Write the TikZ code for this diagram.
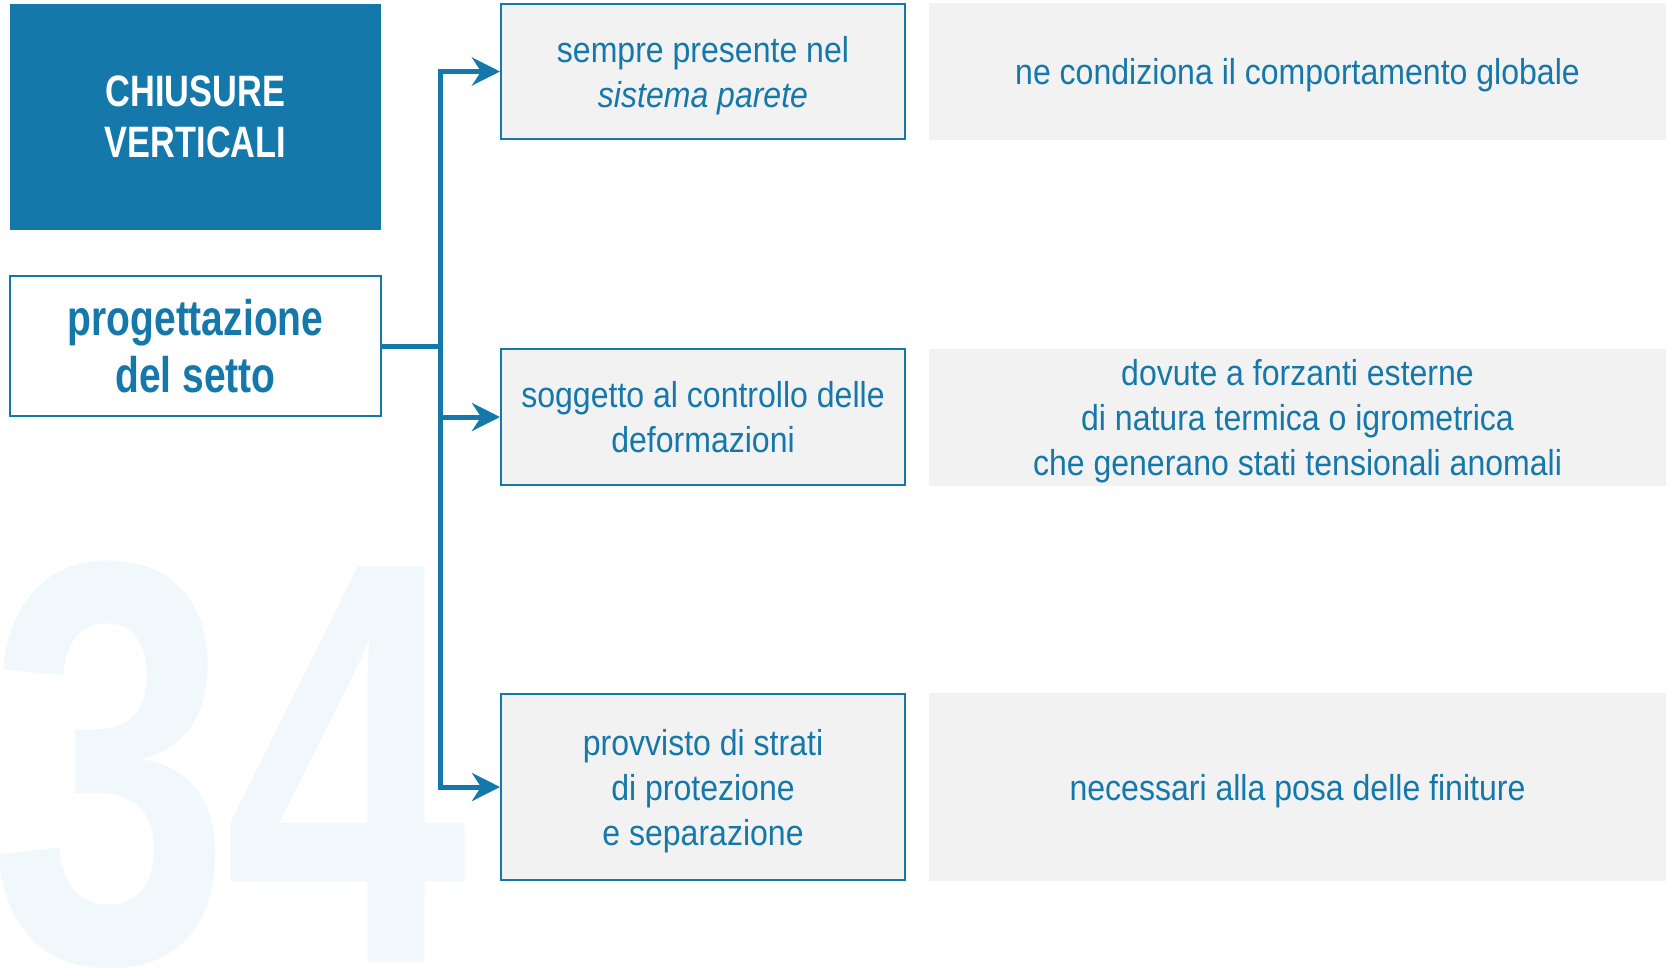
\documentclass[tikz,border=0pt]{standalone}
\usepackage{fontspec}
\setmainfont{Liberation Sans}[FakeStretch=0.89]
\newfontfamily\boldcond{Liberation Sans Bold}[FakeStretch=0.78]
\newfontfamily\wmfont{Liberation Sans Bold}[FakeStretch=0.76]
\usetikzlibrary{arrows.meta}
\definecolor{mblue}{RGB}{21,120,170}
\definecolor{mgrey}{RGB}{242,242,242}
\definecolor{wmcol}{RGB}{240,248,252}
\begin{document}
\begin{tikzpicture}[x=1pt,y=-1pt,
  box/.style={draw=mblue, line width=2pt, fill=mgrey, minimum width=404pt, inner sep=0pt, align=center, text=mblue, text depth=0pt, font=\fontsize{36}{45}\selectfont},
  gbox/.style={fill=mgrey, minimum width=737pt, inner sep=0pt, align=center, text=mblue, text depth=0pt, font=\fontsize{36}{45}\selectfont},
  conn/.style={draw=mblue, line width=5pt},
  arr/.style={conn, -{Stealth[length=28pt,width=28pt,inset=9pt]}},
  wm/.style={text=wmcol, inner sep=0pt, font=\wmfont\fontsize{575}{575}\selectfont}]
\useasboundingbox (0,0) rectangle (1669,967);
% watermark
\node[wm, anchor=base] (d3) at (110,962) {3};
\node[wm, anchor=base] (d4) at (346,962) {4};
% left nodes
\node[fill=mblue, minimum width=371pt, minimum height=226pt, inner sep=0pt, align=center, text=white, font=\boldcond\fontsize{44}{51}\selectfont] (title) at (195.5,117) {CHIUSURE\\VERTICALI};
\node[draw=mblue, line width=2pt, fill=white, minimum width=371pt, minimum height=140pt, inner sep=0pt, align=center, text=mblue, font=\boldcond\fontsize{50}{57}\selectfont] (prog) at (195.5,346) {progettazione\\del setto};
% middle boxes
\node[box, minimum height=135pt] (b1) at (703,71.5) {sempre presente nel\\\itshape sistema parete};
\node[box, minimum height=136pt] (b2) at (703,417) {soggetto al controllo delle\\deformazioni};
\node[box, minimum height=186pt] (b3) at (703,787) {provvisto di strati\\di protezione\\e separazione};
% grey boxes
\node[gbox, minimum height=137pt] (g1) at (1297.5,71.5) {ne condiziona il comportamento globale};
\node[gbox, minimum height=137pt] (g2) at (1297.5,417) {dovute a forzanti esterne\\di natura termica o igrometrica\\che generano stati tensionali anomali};
\node[gbox, minimum height=188pt] (g3) at (1297.5,787) {necessari alla posa delle finiture};
% connectors
\coordinate (j) at (440,346);
\draw[conn] (prog.east) -- (j);
\draw[arr] (j) |- (b1.west);
\draw[arr] (j) |- (b2.west);
\draw[arr] (j) |- (b3.west);
\end{tikzpicture}
\end{document}
